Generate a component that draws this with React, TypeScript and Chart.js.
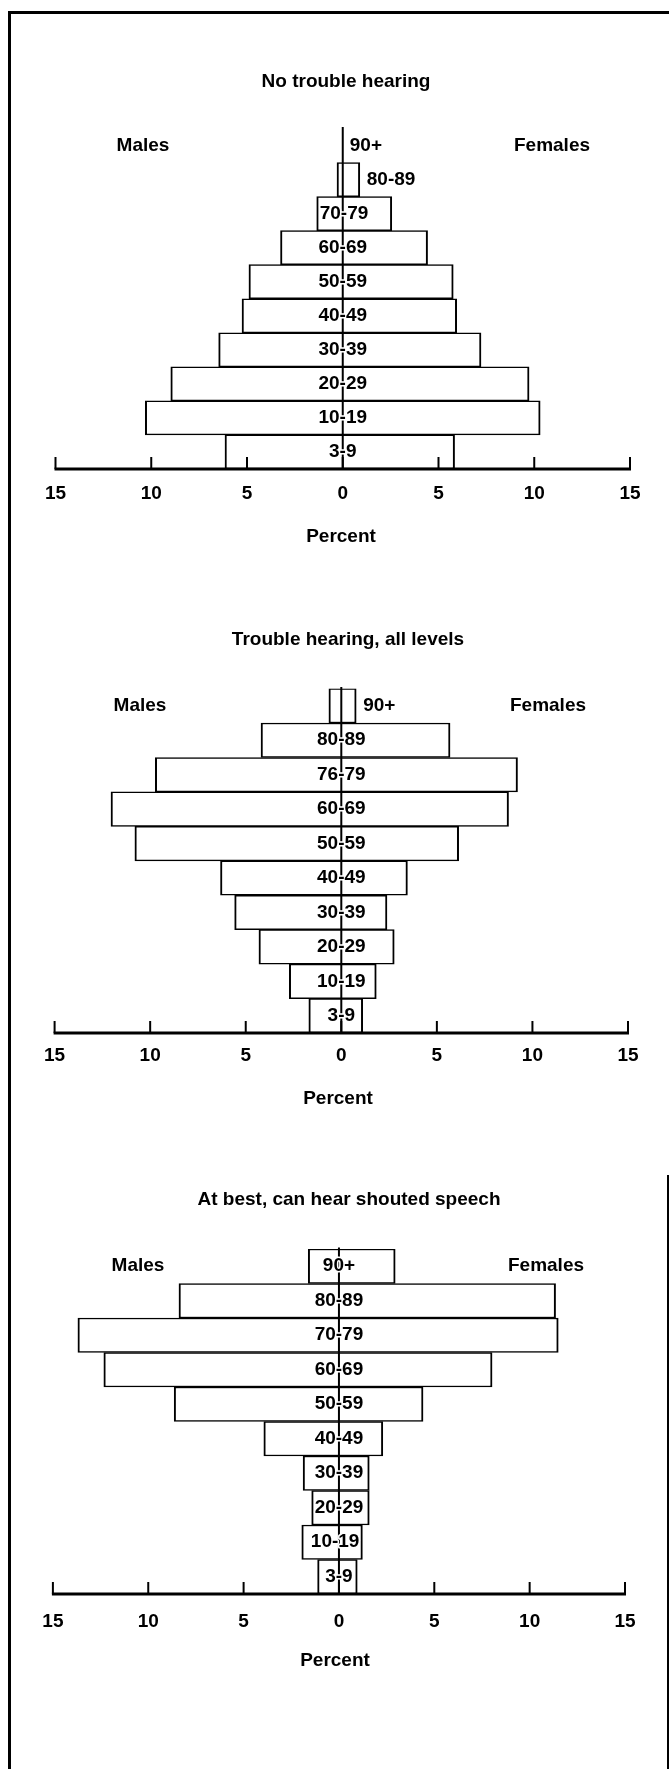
import React, { useEffect, useRef } from "react";
import { Chart, registerables } from "chart.js";

Chart.register(...registerables);

// ---------- DATA ----------
const ageGroupsA = ["90+", "80-89", "70-79", "60-69", "50-59", "40-49", "30-39", "20-29", "10-19", "3-9"];
const ageGroupsB = ["90+", "80-89", "76-79", "60-69", "50-59", "40-49", "30-39", "20-29", "10-19", "3-9"];

const noTroubleMales = [0, 0.3, 1.36, 3.25, 4.9, 5.26, 6.48, 8.98, 10.31, 6.15];
const noTroubleFemales = [0, 0.89, 2.56, 4.43, 5.77, 5.95, 7.22, 9.73, 10.31, 5.84];

const allLevelsMales = [0.65, 4.2, 9.73, 12.05, 10.8, 6.32, 5.58, 4.31, 2.72, 1.7];
const allLevelsFemales = [0.78, 5.69, 9.22, 8.75, 6.14, 3.46, 2.39, 2.77, 1.83, 1.12];

const shoutedMales = [1.61, 8.39, 13.69, 12.33, 8.64, 3.94, 1.88, 1.43, 1.95, 1.12];
const shoutedFemales = [2.95, 11.36, 11.5, 8.03, 4.41, 2.3, 1.59, 1.59, 1.23, 0.96];

const panelTitles = ["No trouble hearing", "Trouble hearing, all levels", "At best, can hear shouted speech"];
const axisTitle = "Percent";
const leftLabel = "Males";
const rightLabel = "Females";
const axisMax = 15;
const axisStep = 5;

// ---------- LAYOUT (page pixels) ----------
const PAGE_W = 669;
const PAGE_H = 1769;
const FONT = 'bold 19px "Liberation Sans", Arial, Helvetica, sans-serif';

type Panel = {
  title: string;
  labels: string[];
  males: number[];
  females: number[];
  canvasTop: number;
  canvasH: number;
  left: number;
  right: number;
  top: number;
  axisY: number;
  titleY: number;
  titleX: number;
  sexY: number;
  malesX: number;
  femalesX: number;
  tickLabelY: number;
  percentY: number;
  percentX: number;
};

const panels: Panel[] = [
  {
    title: panelTitles[0], labels: ageGroupsA, males: noTroubleMales, females: noTroubleFemales,
    canvasTop: 0, canvasH: 560, left: 55.5, right: 630, top: 128.5, axisY: 469,
    titleY: 82, titleX: 346, sexY: 146, malesX: 143, femalesX: 552, tickLabelY: 494, percentY: 537, percentX: 341,
  },
  {
    title: panelTitles[1], labels: ageGroupsB, males: allLevelsMales, females: allLevelsFemales,
    canvasTop: 560, canvasH: 580, left: 54.6, right: 628, top: 688.6, axisY: 1033,
    titleY: 640, titleX: 348, sexY: 706, malesX: 140, femalesX: 548, tickLabelY: 1056, percentY: 1099, percentX: 338,
  },
  {
    title: panelTitles[2], labels: ageGroupsA, males: shoutedMales, females: shoutedFemales,
    canvasTop: 1140, canvasH: 629, left: 52.9, right: 625, top: 1249, axisY: 1594,
    titleY: 1200, titleX: 349, sexY: 1266, malesX: 138, femalesX: 546, tickLabelY: 1622, percentY: 1661, percentX: 335,
  },
];

function makePlugin(p: Panel) {
  return {
    id: "pyramidDecor",
    afterDatasetsDraw(chart: any) {
      const ctx: CanvasRenderingContext2D = chart.ctx;
      const xs = chart.scales.x;
      const ys = chart.scales.y;
      const area = chart.chartArea;
      const off = p.canvasTop;
      const zero = xs.getPixelForValue(0);
      ctx.save();
      ctx.strokeStyle = "#000";
      ctx.fillStyle = "#000";
      ctx.lineCap = "butt";

      // centre line
      ctx.lineWidth = 2;
      ctx.beginPath();
      ctx.moveTo(zero, area.top - 1.5);
      ctx.lineTo(zero, area.bottom);
      ctx.stroke();

      // axis line
      const x0 = xs.getPixelForValue(xs.min);
      const x1 = xs.getPixelForValue(xs.max);
      ctx.lineWidth = 3;
      ctx.beginPath();
      ctx.moveTo(x0 - 1, area.bottom);
      ctx.lineTo(x1 + 1, area.bottom);
      ctx.stroke();

      // ticks + tick labels
      let ticks: { value: number }[] = xs.ticks && xs.ticks.length ? xs.ticks : [];
      if (!ticks.length) {
        for (let v = xs.min; v <= xs.max + 1e-9; v += axisStep) ticks.push({ value: v });
      }
      ctx.font = FONT;
      ctx.textAlign = "center";
      ctx.textBaseline = "middle";
      ticks.forEach((t) => {
        const px = xs.getPixelForValue(t.value);
        ctx.lineWidth = 2;
        ctx.beginPath();
        ctx.moveTo(px, area.bottom);
        ctx.lineTo(px, area.bottom - 12);
        ctx.stroke();
        ctx.fillText(String(Math.abs(t.value)), px, p.tickLabelY - off);
      });

      // titles
      ctx.fillText(p.title, p.titleX, p.titleY - off);
      ctx.fillText(axisTitle, p.percentX, p.percentY - off);
      ctx.fillText(leftLabel, p.malesX, p.sexY - off);
      ctx.fillText(rightLabel, p.femalesX, p.sexY - off);

      // age-group labels
      const mData = chart.data.datasets[0].data as number[];
      const fData = chart.data.datasets[1].data as number[];
      chart.data.labels.forEach((lab: string, i: number) => {
        const cy = ys.getPixelForValue(i);
        const mPx = xs.getPixelForValue(mData[i]);
        const fPx = xs.getPixelForValue(fData[i]);
        const w = ctx.measureText(lab).width;
        let tx: number;
        if (fPx - mPx < w + 6) {
          ctx.textAlign = "left";
          tx = Math.max(fPx, zero) + 7;
        } else {
          ctx.textAlign = "center";
          tx = Math.min(Math.max(zero, mPx + w / 2 + 3), fPx - w / 2 - 3);
        }
        ctx.lineJoin = "round";
        ctx.lineWidth = 3;
        ctx.strokeStyle = "#fff";
        ctx.strokeText(lab, tx, cy);
        ctx.fillStyle = "#000";
        ctx.fillText(lab, tx, cy);
      });
      ctx.restore();
    },
  };
}

function PanelChart({ p }: { p: Panel }) {
  const ref = useRef<HTMLCanvasElement | null>(null);
  useEffect(() => {
    if (!ref.current) return;
    const bw = { top: 1.5, bottom: 1.5, left: 2, right: 2 };
    const chart = new Chart(ref.current, {
      type: "bar",
      data: {
        labels: p.labels,
        datasets: [
          {
            label: leftLabel,
            data: p.males.map((v) => -v),
            backgroundColor: "#ffffff",
            borderColor: "#000000",
            borderWidth: bw,
            borderSkipped: "start",
            barPercentage: 1,
            categoryPercentage: 1,
          },
          {
            label: rightLabel,
            data: p.females,
            backgroundColor: "#ffffff",
            borderColor: "#000000",
            borderWidth: bw,
            borderSkipped: "start",
            barPercentage: 1,
            categoryPercentage: 1,
          },
        ],
      },
      options: {
        indexAxis: "y",
        animation: false,
        responsive: false,
        maintainAspectRatio: false,
        devicePixelRatio: 1,
        layout: {
          padding: {
            left: p.left,
            right: PAGE_W - p.right,
            top: p.top - p.canvasTop,
            bottom: p.canvasH - (p.axisY - p.canvasTop),
          },
        },
        plugins: { legend: { display: false }, tooltip: { enabled: false }, title: { display: false } },
        scales: {
          x: {
            type: "linear",
            min: -axisMax,
            max: axisMax,
            stacked: true,
            display: false,
            ticks: { stepSize: axisStep },
          },
          y: { stacked: true, display: false },
        },
      } as any,
      plugins: [makePlugin(p)],
    });
    return () => chart.destroy();
  }, [p]);
  return (
    <canvas
      ref={ref}
      width={PAGE_W}
      height={p.canvasH}
      style={{ position: "absolute", left: 0, top: p.canvasTop, width: PAGE_W, height: p.canvasH }}
    />
  );
}

export default function App() {
  return (
    <div style={{ position: "absolute", left: 0, top: 0, width: PAGE_W, height: PAGE_H, background: "#fff", overflow: "hidden" }}>
      <div style={{ position: "absolute", left: 8, top: 10.5, width: PAGE_W - 8, height: 3, background: "#000" }} />
      <div style={{ position: "absolute", left: 8, top: 10.5, width: 3, height: PAGE_H - 10.5, background: "#000" }} />
      <div style={{ position: "absolute", left: 666.5, top: 1175, width: 2, height: PAGE_H - 1175, background: "#000" }} />
      {panels.map((p, i) => (
        <PanelChart key={i} p={p} />
      ))}
    </div>
  );
}
